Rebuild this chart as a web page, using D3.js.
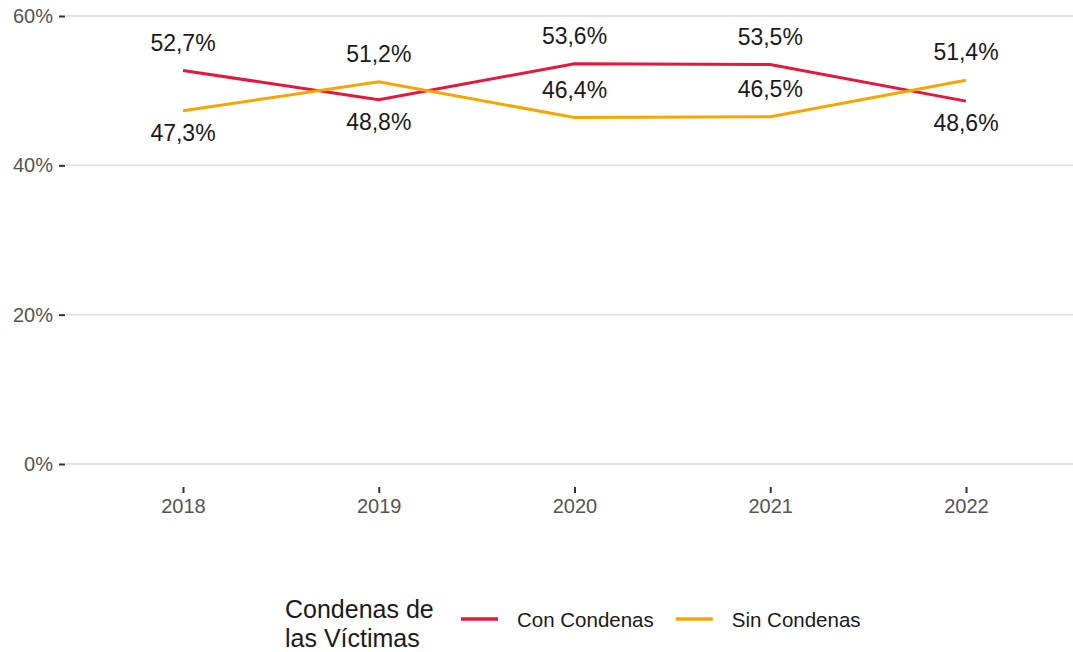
<!DOCTYPE html>
<html>
<head>
<meta charset="utf-8">
<script src="https://cdn.jsdelivr.net/npm/d3@7"></script>
<style>
  body { margin: 0; background: #fff; }
  svg { display: block; font-family: "Liberation Sans", Arial, sans-serif; }
</style>
</head>
<body>
<svg id="chart" width="1073" height="652"></svg>
<script>
var years = ["2018", "2019", "2020", "2021", "2022"];
var conCondenas = [52.7, 48.8, 53.6, 53.5, 48.6];
var sinCondenas = [47.3, 51.2, 46.4, 46.5, 51.4];
var yTicks = [0, 20, 40, 60];
var seriesNames = ["Con Condenas", "Sin Condenas"];
var legendTitle = ["Condenas de", "las Víctimas"];

var colors = { "Con Condenas": "#e8163f", "Sin Condenas": "#f7a600" };

// labels that sit under the line instead of above it
var below = { "Con Condenas": ["2019", "2022"], "Sin Condenas": ["2018"] };

var series = [
    { name: "Con Condenas", values: conCondenas },
    { name: "Sin Condenas", values: sinCondenas }
];

var svg = d3.select("#chart");

var x = d3.scalePoint().domain(years).range([183, 966]);
var y = d3.scaleLinear().domain([0, 60]).range([464, 16]);

function fmt(v) { return v.toFixed(1).replace(".", ",") + "%"; }

// grid
svg.append("g").selectAll("line")
    .data(yTicks)
    .enter().append("line")
    .attr("x1", 66).attr("x2", 1073)
    .attr("y1", function(d) { return y(d); })
    .attr("y2", function(d) { return y(d); })
    .attr("stroke", "#e3e3e3")
    .attr("stroke-width", 2);

// y axis
var yAxis = svg.append("g")
    .attr("transform", "translate(65,0)")
    .call(d3.axisLeft(y).tickValues(yTicks).tickSize(6).tickPadding(6)
        .tickFormat(function(d) { return d + "%"; }));
yAxis.select(".domain").remove();
yAxis.selectAll(".tick line").attr("stroke", "#333").attr("stroke-width", 2);
yAxis.selectAll(".tick text")
    .attr("fill", "#555")
    .style("font-size", "20px")
    .style("font-family", "Liberation Sans, Arial, sans-serif");

// x axis
var xAxis = svg.append("g")
    .attr("transform", "translate(0,487)")
    .call(d3.axisBottom(x).tickSize(6).tickPadding(6));
xAxis.select(".domain").remove();
xAxis.selectAll(".tick line").attr("stroke", "#333").attr("stroke-width", 2);
xAxis.selectAll(".tick text")
    .attr("fill", "#555")
    .style("font-size", "20px")
    .style("font-family", "Liberation Sans, Arial, sans-serif");

// lines
var line = d3.line()
    .x(function(d, i) { return x(years[i]); })
    .y(function(d) { return y(d); });

svg.append("g").selectAll("path")
    .data(series)
    .enter().append("path")
    .attr("d", function(d) { return line(d.values); })
    .attr("fill", "none")
    .attr("stroke", function(d) { return colors[d.name]; })
    .attr("stroke-width", 3);

// value labels
series.forEach(function(s) {
    svg.append("g").selectAll("text")
        .data(s.values)
        .enter().append("text")
        .attr("x", function(d, i) { return x(years[i]); })
        .attr("y", function(d, i) {
            return below[s.name].indexOf(years[i]) >= 0 ? y(d) + 22 : y(d) - 28;
        })
        .attr("text-anchor", "middle")
        .attr("dominant-baseline", "central")
        .attr("fill", "#1a1a1a")
        .style("font-size", "23px")
        .text(fmt);
});

// legend
var legend = svg.append("g");
legend.selectAll("text.title")
    .data(legendTitle)
    .enter().append("text")
    .attr("class", "title")
    .attr("x", 285)
    .attr("y", function(d, i) { return 618 + i * 29; })
    .attr("fill", "#1a1a1a")
    .style("font-size", "25px")
    .text(function(d) { return d; });

var lx = 461;
seriesNames.forEach(function(name) {
    legend.append("line")
        .attr("x1", lx).attr("x2", lx + 37)
        .attr("y1", 619).attr("y2", 619)
        .attr("stroke", colors[name])
        .attr("stroke-width", 3.5);
    var t = legend.append("text")
        .attr("x", lx + 56)
        .attr("y", 619)
        .attr("dominant-baseline", "central")
        .attr("fill", "#1a1a1a")
        .style("font-size", "20.5px")
        .text(name);
    lx = lx + 56 + t.node().getComputedTextLength() + 22;
});
</script>
</body>
</html>
